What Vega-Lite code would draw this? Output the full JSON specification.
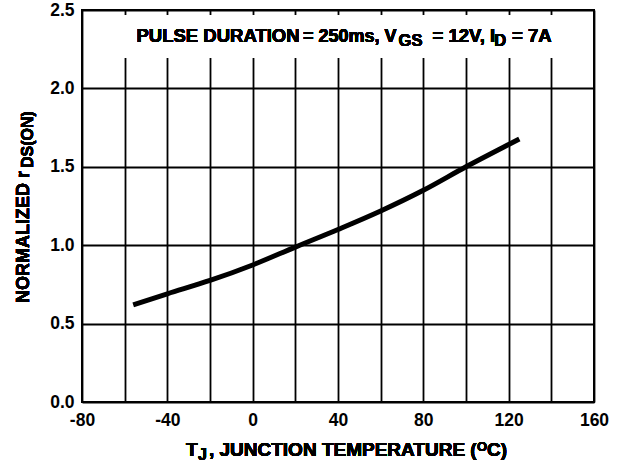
{
  "$schema": "https://vega.github.io/schema/vega-lite/v6.json",
  "autosize": {"type": "none"},
  "width": 512,
  "height": 392,
  "padding": {"left": 82, "top": 10, "right": 33, "bottom": 63},
  "background": "white",
  "config": {
    "view": {"stroke": "black", "strokeWidth": 2},
    "font": "Liberation Sans",
    "axis": {
      "domain": false,
      "ticks": false,
      "tickSize": 0,
      "grid": true,
      "gridColor": "black",
      "gridOpacity": 1,
      "gridWidth": 1.8,
      "labelFont": "Liberation Sans",
      "labelFontWeight": "bold",
      "labelFontSize": 17.5,
      "labelColor": "black",
      "labelOverlap": false,
      "labelFlush": false,
      "title": null
    }
  },
  "data": {
    "values": [
      {"t": -56, "r": 0.62},
      {"t": -40, "r": 0.69},
      {"t": -20, "r": 0.775},
      {"t": 0, "r": 0.874},
      {"t": 20, "r": 0.988},
      {"t": 40, "r": 1.1},
      {"t": 60, "r": 1.218},
      {"t": 80, "r": 1.35},
      {"t": 100, "r": 1.5},
      {"t": 120, "r": 1.642},
      {"t": 125, "r": 1.677}
    ]
  },
  "layer": [
    {
      "mark": {"type": "line", "color": "black", "strokeWidth": 5, "strokeCap": "butt", "interpolate": "monotone"},
      "encoding": {
        "x": {
          "field": "t", "type": "quantitative",
          "scale": {"domain": [-80, 160], "nice": false, "zero": false},
          "axis": {
            "values": [-80, -60, -40, -20, 0, 20, 40, 60, 80, 100, 120, 140, 160],
            "labelExpr": "datum.value % 40 === 0 ? '' + datum.value : ''",
            "labelPadding": 9
          }
        },
        "y": {
          "field": "r", "type": "quantitative",
          "scale": {"domain": [0, 2.5], "nice": false, "zero": false},
          "axis": {
            "values": [0, 0.25, 0.5, 0.75, 1, 1.25, 1.5, 1.75, 2, 2.25, 2.5],
            "labelExpr": "(datum.value * 4) % 2 === 0 ? format(datum.value, '.1f') : ''",
            "labelPadding": 8
          }
        }
      }
    },
    {
      "mark": {"type": "rect", "color": "white", "opacity": 1},
      "encoding": {
        "x": {"datum": -62.2, "type": "quantitative"},
        "x2": {"datum": 144.1},
        "y": {"datum": 2.468, "type": "quantitative"},
        "y2": {"datum": 2.194}
      }
    },
    {
      "mark": {"type": "text", "text": "PULSE DURATION", "align": "left", "baseline": "alphabetic", "fontSize": 18.5, "fontWeight": "bold", "color": "black"},
      "encoding": {"x": {"datum": -54.45, "type": "quantitative"}, "y": {"datum": 2.296, "type": "quantitative"}}
    },
    {
      "mark": {"type": "text", "text": "= 250ms, V", "align": "left", "baseline": "alphabetic", "fontSize": 18, "fontWeight": "bold", "color": "black"},
      "encoding": {"x": {"datum": 23.6, "type": "quantitative"}, "y": {"datum": 2.296, "type": "quantitative"}}
    },
    {
      "mark": {"type": "text", "text": "GS", "align": "left", "baseline": "alphabetic", "fontSize": 16.5, "fontWeight": "bold", "color": "black"},
      "encoding": {"x": {"datum": 68.4, "type": "quantitative"}, "y": {"datum": 2.27, "type": "quantitative"}}
    },
    {
      "mark": {"type": "text", "text": "= 12V, I", "align": "left", "baseline": "alphabetic", "fontSize": 18.5, "fontWeight": "bold", "color": "black"},
      "encoding": {"x": {"datum": 84.3, "type": "quantitative"}, "y": {"datum": 2.296, "type": "quantitative"}}
    },
    {
      "mark": {"type": "text", "text": "D", "align": "left", "baseline": "alphabetic", "fontSize": 16.5, "fontWeight": "bold", "color": "black"},
      "encoding": {"x": {"datum": 113.3, "type": "quantitative"}, "y": {"datum": 2.27, "type": "quantitative"}}
    },
    {
      "mark": {"type": "text", "text": "= 7A", "align": "left", "baseline": "alphabetic", "fontSize": 18.5, "fontWeight": "bold", "color": "black"},
      "encoding": {"x": {"datum": 121.6, "type": "quantitative"}, "y": {"datum": 2.296, "type": "quantitative"}}
    },
    {
      "mark": {"type": "text", "text": "T", "align": "left", "baseline": "alphabetic", "fontSize": 19, "fontWeight": "bold", "color": "black"},
      "encoding": {"x": {"datum": -31.25, "type": "quantitative"}, "y": {"datum": -0.344, "type": "quantitative"}}
    },
    {
      "mark": {"type": "text", "text": "J", "align": "left", "baseline": "alphabetic", "fontSize": 16, "fontWeight": "bold", "color": "black"},
      "encoding": {"x": {"datum": -25.6, "type": "quantitative"}, "y": {"datum": -0.372, "type": "quantitative"}}
    },
    {
      "mark": {"type": "text", "text": ", JUNCTION TEMPERATURE (", "align": "left", "baseline": "alphabetic", "fontSize": 19, "fontWeight": "bold", "color": "black"},
      "encoding": {"x": {"datum": -20.5, "type": "quantitative"}, "y": {"datum": -0.344, "type": "quantitative"}}
    },
    {
      "mark": {"type": "text", "text": "O", "align": "left", "baseline": "alphabetic", "fontSize": 13, "fontWeight": "bold", "color": "black"},
      "encoding": {"x": {"datum": 105.2, "type": "quantitative"}, "y": {"datum": -0.3125, "type": "quantitative"}}
    },
    {
      "mark": {"type": "text", "text": "C)", "align": "left", "baseline": "alphabetic", "fontSize": 19, "fontWeight": "bold", "color": "black"},
      "encoding": {"x": {"datum": 109.84, "type": "quantitative"}, "y": {"datum": -0.344, "type": "quantitative"}}
    },
    {
      "mark": {"type": "text", "text": "NORMALIZED r", "align": "left", "baseline": "alphabetic", "angle": 270, "fontSize": 18, "fontWeight": "bold", "color": "black"},
      "encoding": {"x": {"datum": -104.84, "type": "quantitative"}, "y": {"datum": 0.631, "type": "quantitative"}}
    },
    {
      "mark": {"type": "text", "text": "DS(ON)", "align": "left", "baseline": "alphabetic", "angle": 270, "fontSize": 16, "fontWeight": "bold", "color": "black"},
      "encoding": {"x": {"datum": -102.97, "type": "quantitative"}, "y": {"datum": 1.492, "type": "quantitative"}}
    }
  ]
}
